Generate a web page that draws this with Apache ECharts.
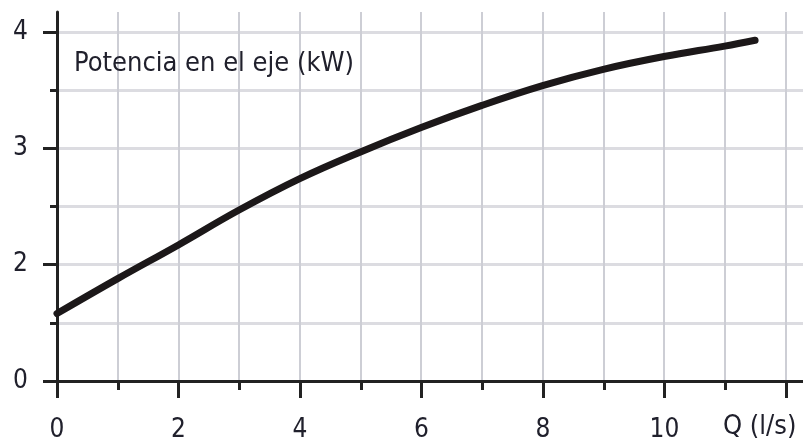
<!DOCTYPE html>
<html>
<head>
<meta charset="utf-8">
<script src="https://cdn.jsdelivr.net/npm/echarts@6/dist/echarts.min.js"></script>
<style>
html,body{margin:0;padding:0;background:#fff;}
#chart{width:803px;height:444px;}
</style>
</head>
<body>
<div id="chart"></div>
<script>
// Data
const flowQ = [0, 1, 2, 3, 4, 5, 6, 7, 8, 9, 10, 11, 11.5];          // Q (l/s)
const shaftPower = [1.58, 1.88, 2.17, 2.47, 2.74, 2.97, 3.18, 3.37, 3.54, 3.68, 3.79, 3.88, 3.93]; // kW
const xTickValues = [0, 2, 4, 6, 8, 10];
const xTickLabels = ['0', '2', '4', '6', '8', '10'];
const yTickValues = [1, 2, 3, 4];
const yTickLabels = ['0', '2', '3', '4'];
const titleText = 'Potencia en el eje (kW)';
const xAxisName = 'Q (l/s)';

const FONT = "'Liberation Sans Narrow', 'DejaVu Sans Condensed', Roboto, sans-serif";
const TEXT_COLOR = '#20202c';
const AXIS_COLOR = '#222222';

const chart = echarts.init(document.getElementById('chart'), null, {renderer: 'canvas'});

const option = {
  backgroundColor: '#ffffff',
  animation: false,
  title: {
    text: titleText,
    left: 74,
    top: 50,
    padding: 0,
    textStyle: {fontFamily: FONT, fontSize: 27, fontWeight: 'normal', color: TEXT_COLOR}
  },
  grid: [
    {left: 57, right: 0, top: 12, bottom: 63, containLabel: false},
    {left: 57, right: 17, top: 32, bottom: 63, containLabel: false}
  ],
  xAxis: [
    {
      gridIndex: 0, type: 'value', min: 0, max: 12.29, interval: 1,
      axisLine: {show: true, onZero: false, lineStyle: {color: AXIS_COLOR, width: 3}},
      axisTick: {show: false},
      axisLabel: {show: false},
      splitLine: {show: true, showMinLine: false, showMaxLine: false, lineStyle: {color: '#cdced5', width: 2}}
    },
    {
      gridIndex: 1, type: 'value', min: 0, max: 12, interval: 2,
      axisLine: {show: false, onZero: false},
      axisTick: {show: true, length: 17, lineStyle: {color: AXIS_COLOR, width: 3}},
      minorTick: {show: true, splitNumber: 2, length: 9, lineStyle: {color: AXIS_COLOR, width: 3}},
      splitLine: {show: false},
      axisLabel: {
        show: true, margin: 36, fontFamily: FONT, fontSize: 26, color: TEXT_COLOR,
        verticalAlign: 'top',
        formatter: function (v) {
          const i = xTickValues.indexOf(v);
          return i >= 0 ? xTickLabels[i] : '';
        }
      },
      name: xAxisName,
      nameLocation: 'end',
      nameGap: -63,
      nameTextStyle: {fontFamily: FONT, fontSize: 27, color: TEXT_COLOR, align: 'left', verticalAlign: 'top', padding: [32, 0, 0, 0]}
    }
  ],
  yAxis: [
    {
      gridIndex: 0, type: 'value', min: 1, max: 4.173, interval: 0.5,
      axisLine: {show: true, onZero: false, lineStyle: {color: AXIS_COLOR, width: 3}},
      axisTick: {show: false},
      axisLabel: {show: false},
      splitLine: {show: true, showMinLine: false, showMaxLine: false, lineStyle: {color: '#dcdce1', width: 3}}
    },
    {
      gridIndex: 1, type: 'value', min: 1, max: 4, interval: 1,
      axisLine: {show: false, onZero: false},
      axisTick: {show: true, length: 14, lineStyle: {color: AXIS_COLOR, width: 3}},
      minorTick: {show: true, splitNumber: 2, length: 7, lineStyle: {color: AXIS_COLOR, width: 3}},
      splitLine: {show: false},
      axisLabel: {
        show: true, margin: 29, fontFamily: FONT, fontSize: 26, color: TEXT_COLOR,
        formatter: function (v) {
          const i = yTickValues.indexOf(v);
          return i >= 0 ? yTickLabels[i] : '';
        }
      }
    }
  ],
  series: [
    {
      type: 'line',
      xAxisIndex: 0, yAxisIndex: 0,
      data: flowQ.map((q, i) => [q, shaftPower[i]]),
      smooth: 0.4,
      showSymbol: false,
      symbol: 'none',
      lineStyle: {color: '#1c1819', width: 7, cap: 'round', join: 'round'},
      z: 5
    }
  ]
};

chart.setOption(option);
</script>
</body>
</html>
